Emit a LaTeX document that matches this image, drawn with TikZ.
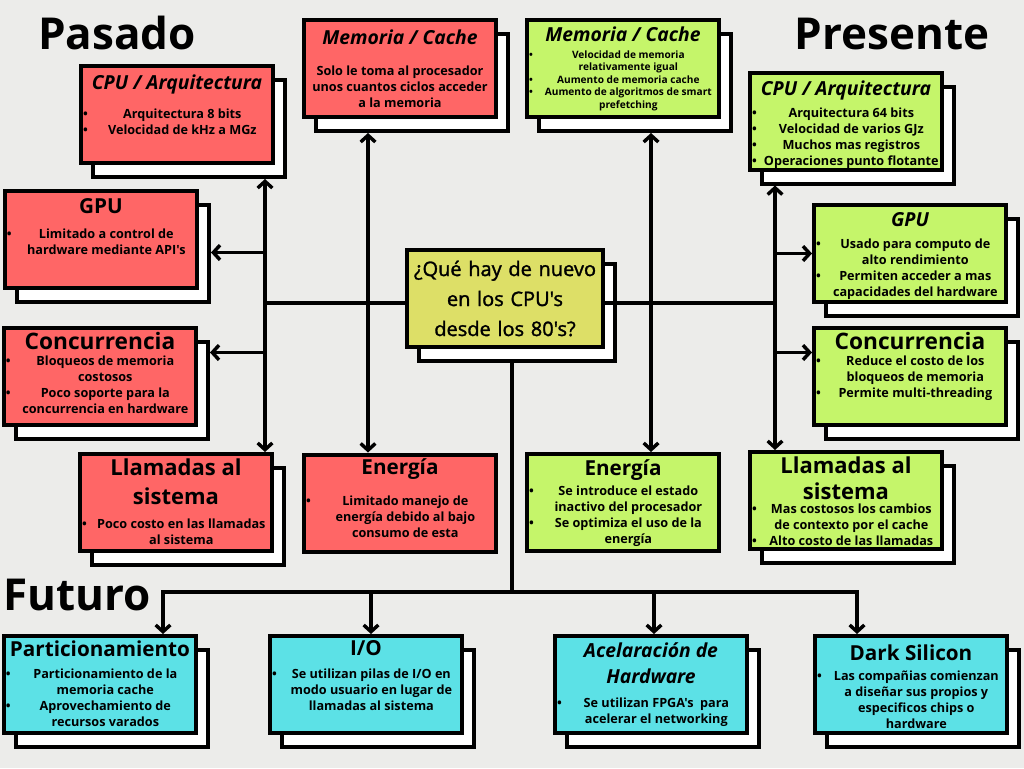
\documentclass[tikz,border=0pt]{standalone}
\usepackage{fontspec}
\newfontfamily\osans{Open Sans}
\newfontfamily\osemi{Open Sans}[FakeBold=1.5]
\usetikzlibrary{arrows.meta,shadows,calc}

\definecolor{pasadoC}{RGB}{255,102,102}
\definecolor{presenteC}{RGB}{197,245,106}
\definecolor{futuroC}{RGB}{92,225,230}
\definecolor{centroC}{RGB}{221,223,103}
\definecolor{fondoC}{RGB}{236,236,234}

% titulos de las cajas
\newcommand{\tit}[1]{{\fontsize{15.5}{19}\selectfont #1\par}}
\newcommand{\titg}[1]{{\fontsize{17}{21}\selectfont #1\par}}
\newcommand{\titl}[2][22]{{\fontsize{16.5}{#1}\selectfont #2\par}}
\newcommand{\titi}[1]{{\fontsize{14.5}{19.5}\selectfont\itshape #1\par}}
% punto con texto centrado
\newcommand{\itm}[1]{\noindent\makebox[8pt][l]{\textbullet}%
  \parbox[t]{133pt}{\centering #1\par\xdef\itmpd{\the\prevdepth}}\par\prevdepth=\itmpd\relax}

\begin{document}
\begin{tikzpicture}[
  x=0.75pt, y=-0.75pt, font=\osans,
  >={Straight Barb[length=5pt,width=11pt]},
  caja/.style={draw=black, line width=3pt, inner sep=0pt,
               minimum width=144pt, minimum height=72.75pt,
               execute at begin node={\begin{minipage}[t][66pt][t]{141pt}\centering\osans\bfseries\fontsize{9.5}{12}\selectfont},
               execute at end node={\end{minipage}}},
  sombra/.style={copy shadow={shadow xshift=9pt, shadow yshift=-10.5pt,
                 fill=white, draw=black, line width=3pt}},
  pas/.style={caja, fill=pasadoC},
  pre/.style={caja, fill=presenteC},
  fut/.style={caja, fill=futuroC, sombra},
  centro/.style={draw=black, line width=3pt, fill=centroC, inner sep=0pt,
                 minimum width=147pt, minimum height=72.75pt, text width=147pt,
                 align=center, font=\osemi\fontsize{15}{22.5}\selectfont},
  titulo/.style={font=\osans\fontsize{33}{36}\selectfont\bfseries},
  linea/.style={line width=2.6pt}
]
  \fill[fondoC] (0,0) rectangle (1024,768);
  \useasboundingbox (0,0) rectangle (1024,768);

  \node[titulo] (pasado) at (117,33) {Pasado};
  \node[titulo] (presente) at (892,34) {Presente};
  \node[titulo] (futuro) at (77,595) {Futuro};

  \node[centro, sombra] (centro) at (505,298.5) {¿Qué hay de nuevo\\en los CPU's\\desde los 80's?};

  % pasado
  \node[pas, sombra] (cpuP) at (177,114.5) {\vspace{3pt}\titi{CPU / Arquitectura}\vspace{10pt}\itm{Arquitectura 8 bits}\itm{Velocidad de kHz a MGz}};
  \node[pas, sombra] (memP) at (400,68.5) {\vspace{4pt}\titi{Memoria / Cache}\vspace{11pt}Solo le toma al procesador\\unos cuantos ciclos acceder\\a la memoria\par};
  \node[pas, sombra] (gpuP) at (101,239.5) {\vspace{2pt}\tit{GPU}\vspace{7pt}\itm{Limitado a control de\\hardware mediante API's}};
  \node[pas, sombra] (conP) at (100,376.5) {\titg{Concurrencia}\itm{Bloqueos de memoria\\costosos}\itm{Poco soporte para la\\concurrencia en hardware}};
  \node[pas, sombra] (llaP) at (176,502.5) {\titl{Llamadas al\\sistema}\vspace{6pt}\itm{Poco costo en las llamadas\\al sistema}};
  \node[pas] (eneP) at (400,503) {\tit{Energía}\vspace{11pt}\itm{Limitado manejo de\\energía debido al bajo\\consumo de esta}};

  % presente
  \node[pre, sombra] (memN) at (623,68.5) {\vspace{2pt}\titi{Memoria / Cache}\vspace{3pt}{\fontsize{7.6}{9.4}\selectfont\itm{Velocidad de memoria\\relativamente igual}\itm{Aumento de memoria cache}\itm{Aumento de algoritmos de smart\\prefetching}}};
  \node[pre, sombra] (cpuN) at (846,121) {\vspace{3pt}\titi{CPU / Arquitectura}\vspace{4pt}\itm{Arquitectura 64 bits}\itm{Velocidad de varios GJz}\itm{Muchos mas registros}\itm{Operaciones punto flotante}};
  \node[pre, sombra] (gpuN) at (910,253.5) {\vspace{2pt}\titi{GPU}\vspace{5pt}\itm{Usado para computo de\\alto rendimiento}\itm{Permiten acceder a mas\\capacidades del hardware}};
  \node[pre, sombra] (conN) at (910,376.5) {\titg{Concurrencia}\itm{Reduce el costo de los\\bloqueos de memoria}\itm{Permite multi-threading}};
  \node[pre] (eneN) at (623,502.5) {\vspace{1pt}\tit{Energía}\vspace{3pt}\itm{Se introduce el estado\\inactivo del procesador}\itm{Se optimiza el uso de la\\energía}};
  \node[pre, sombra] (llaN) at (846,500.5) {\titl[19.75]{Llamadas al\\sistema}\vspace{-1.5pt}\itm{Mas costosos los cambios\\de contexto por el cache}\itm{Alto costo de las llamadas}};

  % futuro
  \node[fut] (parF) at (100,684.5) {\tit{Particionamiento}\vspace{5pt}\itm{Particionamiento de la\\memoria cache}\itm{Aprovechamiento de\\recursos varados}};
  \node[fut] (ioF) at (366,684.5) {\tit{I/O}\vspace{5pt}\itm{Se utilizan pilas de I/O en\\modo usuario en lugar de\\llamadas al sistema}};
  \node[fut] (aceF) at (651,684.5) {\vspace{2pt}\titi{Acelaración de\\Hardware}\vspace{6pt}\itm{Se utilizan FPGA's\ \ para\\acelerar el networking}};
  \node[fut] (darF) at (911,684.5) {\vspace{3pt}\tit{Dark Silicon}\vspace{3pt}\itm{Las compañias comienzan\\a diseñar sus propios y\\especificos chips o\\hardware}};

  % conectores
  \coordinate (ejeL) at (265,303);
  \coordinate (ejeM) at (368,303);
  \coordinate (ejeN) at (651,303);
  \coordinate (ejeR) at (775,303);
  \coordinate (baja) at (512,592);

  \draw[linea,<->] ($(cpuP.south -| ejeL)+(0,14)$) -- (llaP.north -| ejeL);
  \draw[linea,<->] ($(memP.south -| ejeM)+(0,14)$) -- (eneP.north -| ejeM);
  \draw[linea] (ejeL) -- (ejeL -| centro.west);
  \coordinate (pGpu) at ($(gpuP.east)+(12,13)$);
  \coordinate (pCon) at ($(conP.east)+(12,-24)$);
  \draw[linea,->] (ejeL |- pGpu) -- (pGpu);
  \draw[linea,->] (ejeL |- pCon) -- (pCon);

  \draw[linea,<->] ($(memN.south -| ejeN)+(0,14)$) -- (eneN.north -| ejeN);
  \draw[linea,<->] ($(cpuN.south -| ejeR)+(0,14)$) -- (llaN.north -| ejeR);
  \draw[linea] (ejeR -| centro.east) -- (ejeR);
  \coordinate (nCon) at ($(conN.west)+(0,-24)$);
  \draw[linea,->] (ejeR |- gpuN.west) -- (gpuN.west);
  \draw[linea,->] (ejeR |- nCon) -- (nCon);

  \draw[linea] ($(baja |- centro.south)+(0,14)$) -- (baja);
  \coordinate (dPar) at (163,592);
  \coordinate (dIo) at (371,592);
  \coordinate (dAce) at (654,592);
  \coordinate (dDar) at (857,592);
  \draw[linea, line cap=rect] (dPar) -- (dDar);
  \foreach \d/\n in {dPar/parF, dIo/ioF, dAce/aceF, dDar/darF}
    \draw[linea,->] (\d) -- (\d |- \n.north);
\end{tikzpicture}
\end{document}
